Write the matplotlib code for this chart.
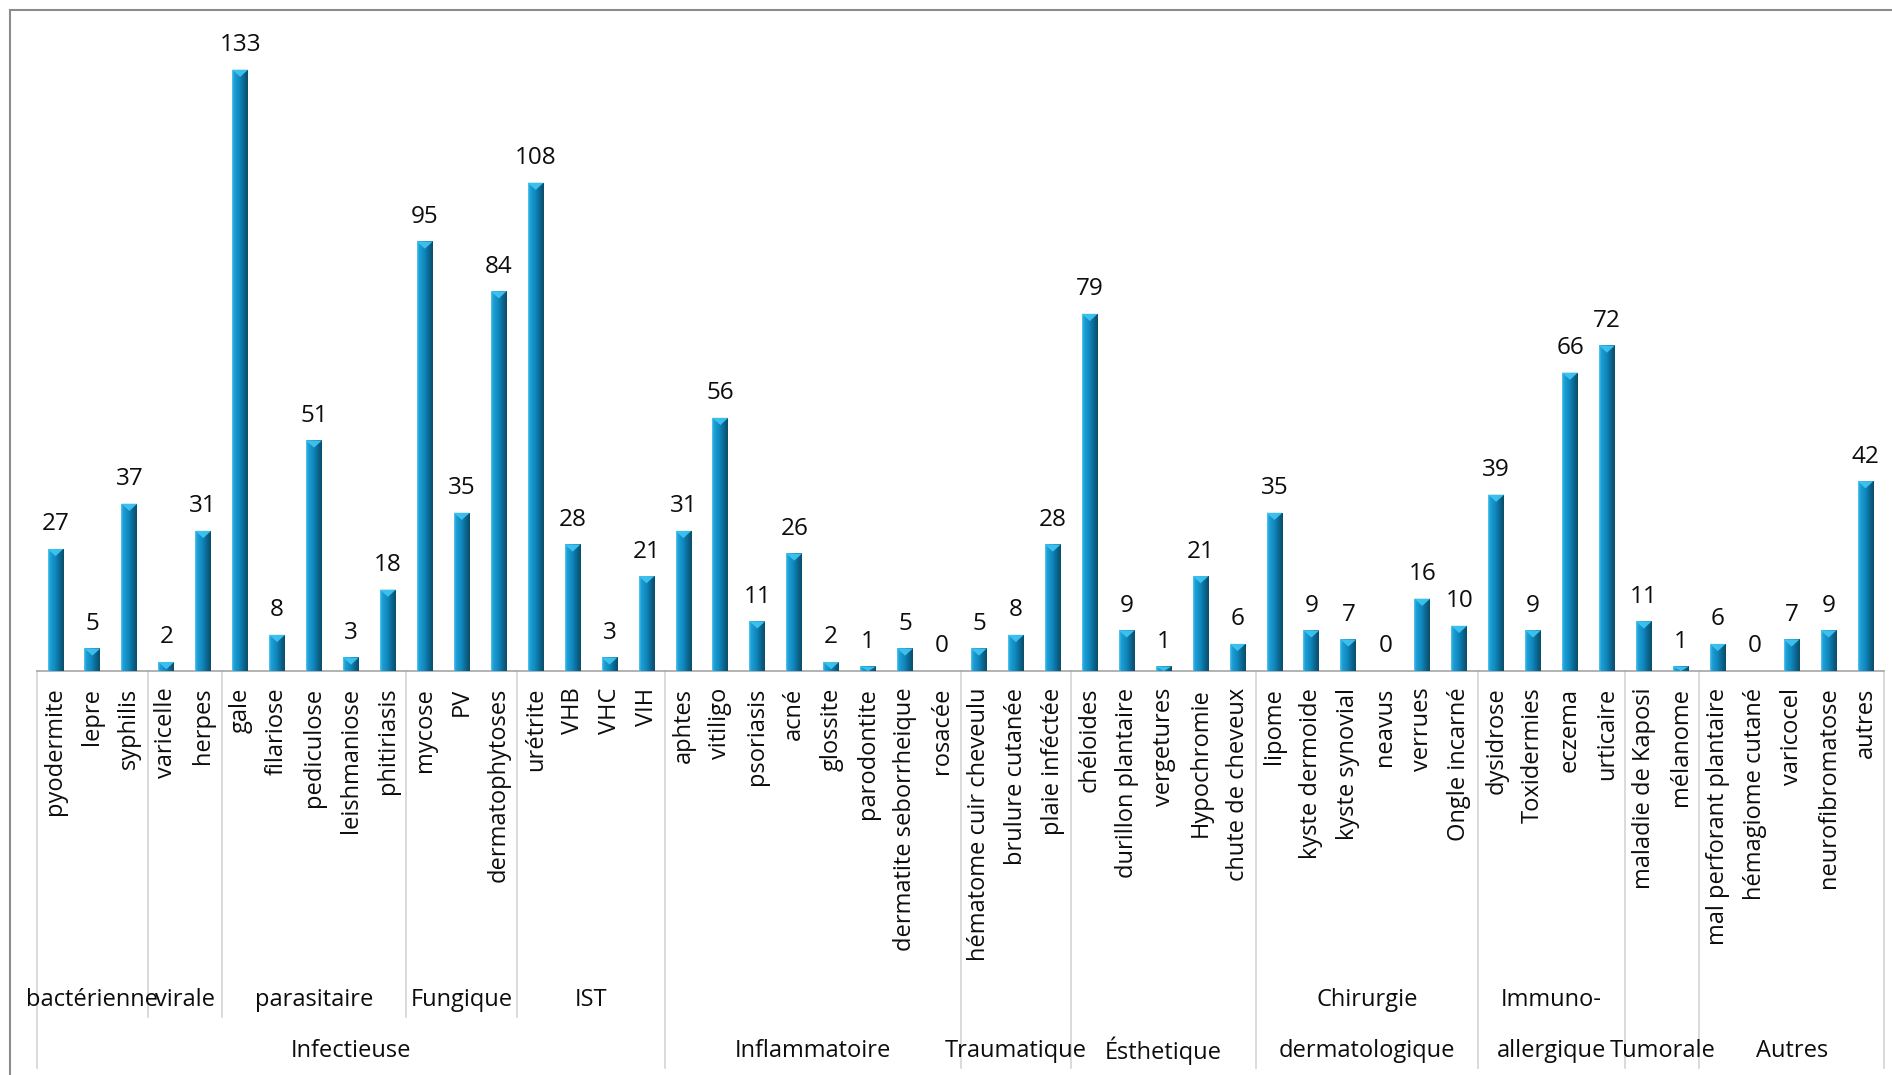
import numpy as np
import matplotlib
matplotlib.use("Agg")
import matplotlib.pyplot as plt
from matplotlib import transforms
from matplotlib.colors import LinearSegmentedColormap
from matplotlib.patches import Polygon
from matplotlib.lines import Line2D

plt.rcParams['font.family'] = ['Open Sans', 'DejaVu Sans']
plt.rcParams['font.weight'] = 'medium'

# Diagnoses and case counts
diagnoses = [
    "pyodermite", "lepre", "syphilis",
    "varicelle", "herpes",
    "gale", "filariose", "pediculose", "leishmaniose", "phitiriasis",
    "mycose", "PV", "dermatophytoses",
    "urétrite", "VHB", "VHC", "VIH",
    "aphtes", "vitiligo", "psoriasis", "acné", "glossite", "parodontite",
    "dermatite seborrheique", "rosacée",
    "hématome cuir cheveulu", "brulure cutanée", "plaie inféctée",
    "chéloides", "durillon plantaire", "vergetures", "Hypochromie", "chute de cheveux",
    "lipome", "kyste dermoide", "kyste synovial", "neavus", "verrues", "Ongle incarné",
    "dysidrose", "Toxidermies", "eczema", "urticaire",
    "maladie de Kaposi", "mélanome",
    "mal perforant plantaire", "hémagiome cutané", "varicocel", "neurofibromatose", "autres",
]
counts = [
    27, 5, 37,
    2, 31,
    133, 8, 51, 3, 18,
    95, 35, 84,
    108, 28, 3, 21,
    31, 56, 11, 26, 2, 1, 5, 0,
    5, 8, 28,
    79, 9, 1, 21, 6,
    35, 9, 7, 0, 16, 10,
    39, 9, 66, 72,
    11, 1,
    6, 0, 7, 9, 42,
]

# Sub-groups (first row under the labels) and their sizes
sub_groups = ["bactérienne", "virale", "parasitaire", "Fungique", "IST"]
sub_sizes = [3, 2, 5, 3, 4]

# Main groups (bottom row) and their sizes
main_groups = ["Infectieuse", "Inflammatoire", "Traumatique", "Ésthetique",
               "Chirurgie\n\ndermatologique", "Immuno-\n\nallergique", "Tumorale", "Autres"]
main_sizes = [17, 8, 3, 5, 6, 4, 2, 5]

FS = 17
TXT = "#0d0d0d"
W, H = 1892, 1075
fig = plt.figure(figsize=(W / 100, H / 100), dpi=100)
ax = fig.add_axes([37 / W, (H - 671) / H, (1884 - 37) / W, (671 - 38) / H])

x = np.arange(len(diagnoses))
bar_w = 0.43
bars = ax.bar(x, counts, width=bar_w, color="#0f86bb", linewidth=0, zorder=2)

# Cylinder-like shading on each bar
cyl = LinearSegmentedColormap.from_list(
    "cyl", [(0.0, "#62cff2"), (0.10, "#1ea2d9"), (0.45, "#1089c0"),
            (0.70, "#0b6c97"), (1.0, "#0a4c6a")])
grad = np.linspace(0, 1, 64).reshape(1, -1)
for b, v in zip(bars, counts):
    x0, w = b.get_x(), b.get_width()
    if v > 0:
        im = ax.imshow(grad, cmap=cyl, aspect="auto", extent=(x0, x0 + w, 0, v),
                       origin="lower", zorder=3, interpolation="bicubic")
        im.set_clip_path(b)
        cap = min(v, 1.6)
        ax.add_patch(Polygon([(x0, v), (x0 + w, v), (x0 + w / 2, v - cap)],
                             closed=True, facecolor="#3fc3f0", edgecolor="none",
                             zorder=4, alpha=0.95))
    ax.annotate(str(v), (x0 + w / 2, v), xytext=(0, 9), textcoords="offset points",
                ha="center", va="bottom", fontsize=FS + 0.5, color=TXT)

ax.set_xlim(-0.5, len(diagnoses) - 0.5)
ax.set_ylim(0, 140)
ax.set_yticks([])
ax.set_xticks(x)
ax.set_xticklabels(diagnoses, rotation=90, ha="center", va="top", fontsize=FS,
                   color=TXT)
ax.tick_params(axis="x", length=0, pad=12)
for s in ("top", "right", "left"):
    ax.spines[s].set_visible(False)
ax.spines["bottom"].set_color("#a6a6a6")
ax.spines["bottom"].set_linewidth(1.2)
ax.patch.set_alpha(0)

# Group separators and labels below the axis
tr = transforms.blended_transform_factory(ax.transData, fig.transFigure)
y_base = (H - 671) / H
y_sub_end = (H - 1017) / H
y_main_end = (H - 1068) / H
y_sub_txt = (H - 1000) / H
y_main_txt = (H - 1051) / H
sep_col = "#d4d4d4"

start = 0
for name, n in zip(sub_groups, sub_sizes):
    ax.text(start + n / 2 - 0.5, y_sub_txt, name, transform=tr, ha="center",
            va="center", fontsize=FS, color=TXT)
    if start > 0:
        ax.add_line(Line2D([start - 0.5, start - 0.5], [y_base, y_sub_end],
                           transform=tr, color=sep_col, lw=1.2, clip_on=False))
    start += n

start = 0
for name, n in zip(main_groups, main_sizes):
    cx = start + n / 2 - 0.5
    if "\n" in name:
        top, bottom = name.split("\n\n")
        ax.text(cx, y_sub_txt, top, transform=tr, ha="center", va="center",
                fontsize=FS, color=TXT)
        ax.text(cx, y_main_txt, bottom, transform=tr, ha="center", va="center",
                fontsize=FS, color=TXT)
    else:
        ax.text(cx, y_main_txt, name, transform=tr, ha="center", va="center",
                fontsize=FS, color=TXT)
    ax.add_line(Line2D([start - 0.5, start - 0.5], [y_base, y_main_end],
                       transform=tr, color=sep_col, lw=1.2, clip_on=False))
    start += n
ax.add_line(Line2D([start - 0.5, start - 0.5], [y_base, y_main_end],
                   transform=tr, color=sep_col, lw=1.2, clip_on=False))

# Outer chart frame
fx, fy = 10 / W, 1 - 10 / H
fig.add_artist(Line2D([fx, fx], [0, fy], transform=fig.transFigure, color="#8c8c8c", lw=1.5))
fig.add_artist(Line2D([fx, 1], [fy, fy], transform=fig.transFigure, color="#8c8c8c", lw=1.5))

fig.savefig("out.png", dpi=100, facecolor="white")
